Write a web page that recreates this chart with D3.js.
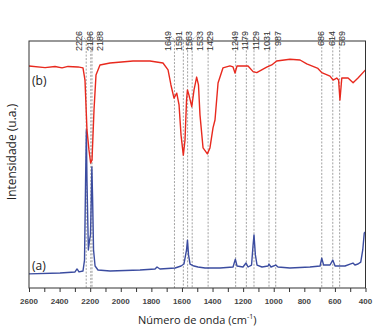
<!DOCTYPE html>
<html>
<head>
<meta charset="utf-8">
<script src="https://cdn.jsdelivr.net/npm/d3@7"></script>
<style>
  body { margin: 0; background: #fff; }
  text { font-family: "Liberation Sans", Arial, sans-serif; }
</style>
</head>
<body>
<div id="chart"></div>
<script>
// picos marcados no topo
const peaks = [2226, 2196, 2188, 1649, 1591, 1563, 1533, 1429, 1249, 1179, 1129, 1031, 987, 686, 614, 569];
const xTicks = [2600, 2400, 2200, 2000, 1800, 1600, 1400, 1200, 1000, 800, 600, 400];

// espectro (a) - [número de onda, intensidade]
const specA = [
  [2600, 5.7], [2397, 6.1], [2299, 6.5], [2286, 7.7], [2273, 6.5], [2247, 6.9],
  [2237, 11.3], [2230, 43.7], [2225, 64.0], [2221, 43.7], [2212, 15.4], [2204, 19.4],
  [2198, 21.5], [2193, 35.6], [2189, 49.0], [2184, 35.6], [2178, 15.4], [2168, 8.9],
  [2149, 7.3], [2070, 6.9], [1874, 7.3], [1776, 7.7], [1763, 8.5], [1744, 7.7],
  [1645, 8.1], [1606, 8.9], [1587, 9.7], [1570, 15.4], [1564, 19.4], [1557, 13.4],
  [1547, 9.7], [1521, 8.9], [1495, 8.5], [1449, 8.1], [1351, 8.1], [1266, 8.5],
  [1251, 11.7], [1240, 8.9], [1201, 8.5], [1181, 10.1], [1168, 8.5], [1145, 9.3],
  [1135, 17.4], [1129, 21.5], [1120, 13.4], [1109, 9.3], [1077, 8.5], [1037, 8.9],
  [1031, 9.7], [1018, 8.5], [987, 9.3], [972, 8.5], [894, 8.1], [763, 8.5],
  [697, 8.9], [686, 12.1], [674, 9.3], [632, 9.3], [614, 11.3], [599, 8.9],
  [534, 8.9], [501, 9.7], [482, 10.1], [469, 9.3], [449, 9.7], [431, 10.5],
  [418, 15.4], [408, 22.3], [401, 22.7]
];

// espectro (b)
const specB = [
  [2600, 89.9], [2495, 89.2], [2430, 89.7], [2384, 89.1], [2345, 89.7], [2280, 89.5],
  [2247, 89.1], [2234, 84.2], [2221, 64.0], [2208, 55.9], [2197, 50.6], [2188, 51.8],
  [2175, 72.1], [2162, 86.2], [2136, 90.3], [2070, 91.1], [1920, 91.9], [1809, 91.9],
  [1724, 91.1], [1691, 88.3], [1672, 82.2], [1652, 76.9], [1634, 78.9], [1619, 74.1],
  [1606, 61.9], [1591, 53.8], [1580, 59.9], [1570, 76.1], [1564, 80.2], [1554, 78.1],
  [1536, 73.4], [1521, 80.2], [1504, 85.4], [1492, 82.2], [1482, 70.0], [1462, 56.7],
  [1434, 54.3], [1417, 56.7], [1397, 64.8], [1384, 68.0], [1364, 83.0], [1332, 89.1],
  [1286, 89.9], [1266, 89.5], [1253, 87.0], [1240, 89.9], [1168, 89.9], [1135, 87.6],
  [1111, 87.2], [1046, 89.4], [1013, 90.3], [981, 91.9], [894, 92.6], [828, 92.3],
  [784, 90.7], [711, 88.9], [686, 87.2], [632, 85.8], [612, 84.2], [588, 85.0],
  [576, 84.2], [567, 76.1], [555, 85.0], [514, 85.0], [481, 83.1], [449, 85.0],
  [400, 88.3]
];

const width = 380, height = 331;
const margin = {top: 41, right: 14.5, bottom: 43, left: 29};
const innerH = height - margin.top - margin.bottom;

const svg = d3.select("#chart").append("svg")
    .attr("width", width)
    .attr("height", height);

const x = d3.scaleLinear().domain([2600, 400]).range([margin.left, width - margin.right]);
const y = d3.scaleLinear().domain([0, 100]).range([height - margin.bottom, margin.top]);

// linhas tracejadas dos picos e rótulos espalhados
const lx = peaks.map(p => x(p));
const pos = lx.slice();
const gap = 10.5;
for (let it = 0; it < 500; it++) {
  let moved = false;
  for (let i = 1; i < pos.length; i++) {
    const d = pos[i] - pos[i - 1];
    if (d < gap - 0.01) {
      const shift = (gap - d) / 2;
      pos[i - 1] -= shift;
      pos[i] += shift;
      moved = true;
    }
  }
  if (!moved) break;
}

const guides = svg.append("g")
    .attr("fill", "none")
    .attr("stroke", "#8a8a8a")
    .attr("stroke-width", 0.8)
    .attr("stroke-dasharray", "2,1.5");

guides.selectAll("path")
    .data(peaks)
    .enter().append("path")
    .attr("d", (d, i) => `M${pos[i]},33L${lx[i]},${margin.top - 1}L${lx[i]},${height - margin.bottom}`);

svg.append("g").selectAll("text")
    .data(peaks)
    .enter().append("text")
    .attr("transform", (d, i) => `translate(${pos[i]},31) rotate(-90)`)
    .attr("dy", "0.35em")
    .attr("text-anchor", "end")
    .attr("font-size", 9)
    .attr("fill", "#333")
    .text(d => d);

// espectros
const line = d3.line()
    .x(d => x(d[0]))
    .y(d => y(d[1]));

svg.append("path")
    .datum(specA)
    .attr("fill", "none")
    .attr("stroke", "#3b4ca0")
    .attr("stroke-width", 1.4)
    .attr("stroke-linejoin", "round")
    .attr("d", line);

svg.append("path")
    .datum(specB)
    .attr("fill", "none")
    .attr("stroke", "#e8291e")
    .attr("stroke-width", 1.4)
    .attr("stroke-linejoin", "round")
    .attr("d", line);

// moldura
svg.append("rect")
    .attr("x", margin.left)
    .attr("y", margin.top)
    .attr("width", width - margin.left - margin.right)
    .attr("height", innerH)
    .attr("fill", "none")
    .attr("stroke", "#333")
    .attr("stroke-width", 1);

// eixo x
const xAxis = svg.append("g")
    .attr("transform", `translate(0,${height - margin.bottom})`)
    .call(d3.axisBottom(x).tickValues(d3.range(2600, 399, -100)).tickSize(4).tickFormat(""));
xAxis.select(".domain").remove();
xAxis.selectAll("line").attr("stroke", "#333");

svg.append("g").selectAll("text")
    .data(xTicks)
    .enter().append("text")
    .attr("x", d => x(d))
    .attr("y", height - margin.bottom + 16)
    .attr("text-anchor", "middle")
    .attr("font-size", 8)
    .attr("font-weight", "bold")
    .attr("fill", "#444")
    .text(d => d);

// títulos
const xt = svg.append("text")
    .attr("x", (margin.left + width - margin.right) / 2)
    .attr("y", 324)
    .attr("text-anchor", "middle")
    .attr("font-size", 11)
    .attr("fill", "#222")
    .style("font-family", "'Open Sans', sans-serif");
xt.append("tspan").text("Número de onda (cm");
xt.append("tspan").attr("dy", -5).attr("font-size", 7).text("-1");
xt.append("tspan").attr("dy", 5).text(")");

svg.append("text")
    .attr("transform", "translate(16,152) rotate(-90)")
    .attr("text-anchor", "middle")
    .attr("font-size", 12)
    .attr("fill", "#222")
    .style("font-family", "'Open Sans', sans-serif")
    .text("Intensidade (u.a.)");

svg.append("text")
    .attr("x", 32).attr("y", 85)
    .attr("font-size", 12)
    .attr("fill", "#222")
    .style("font-family", "'Open Sans', sans-serif")
    .text("(b)");

svg.append("text")
    .attr("x", 32).attr("y", 270)
    .attr("font-size", 12)
    .attr("fill", "#222")
    .style("font-family", "'Open Sans', sans-serif")
    .text("(a)");
</script>
</body>
</html>
